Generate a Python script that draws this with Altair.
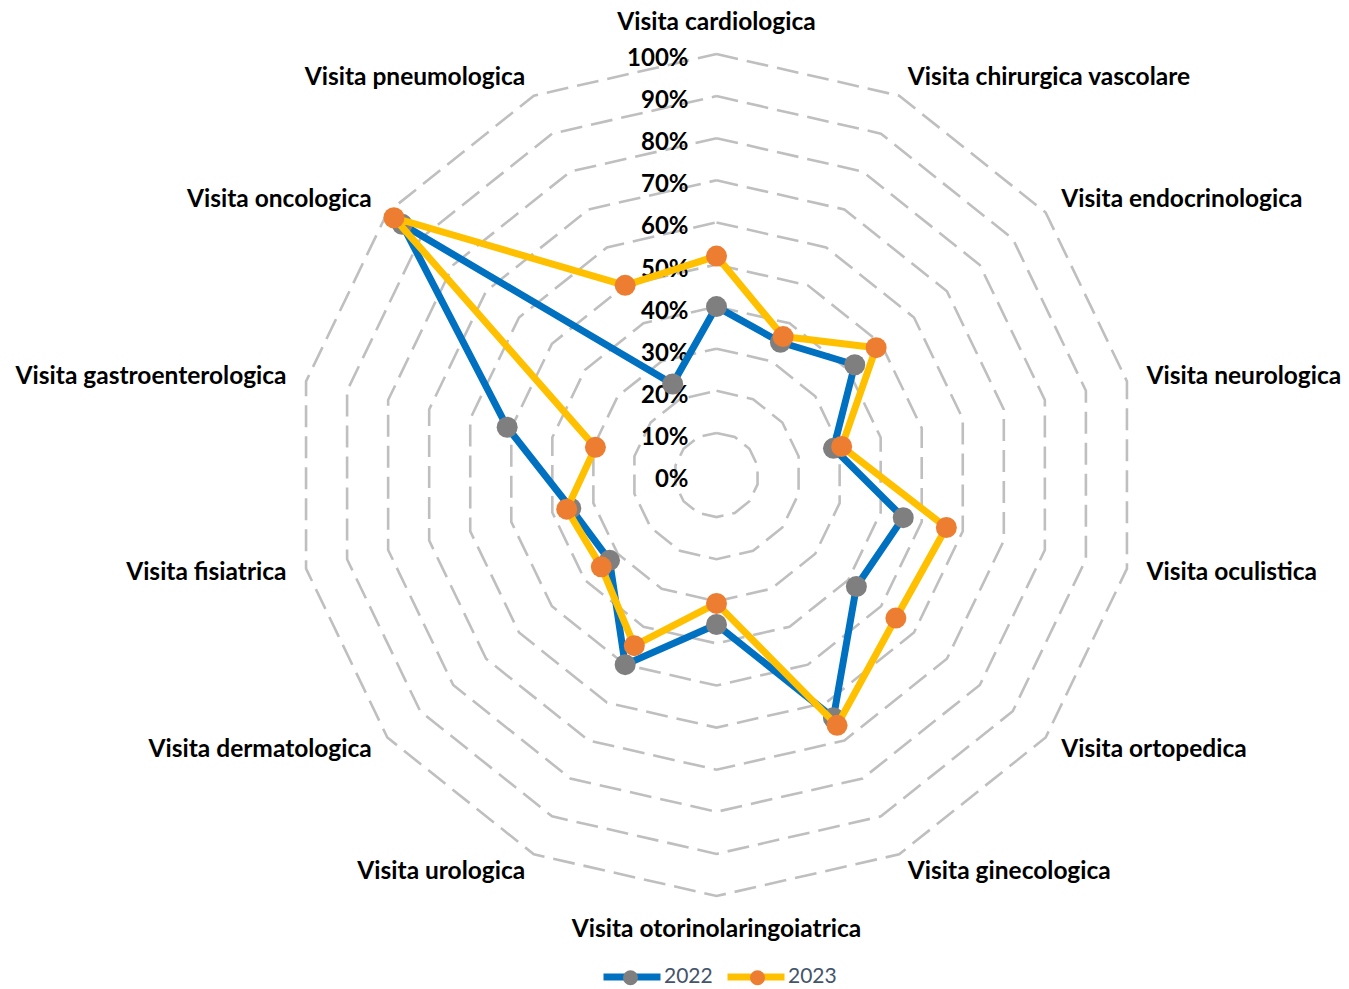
import altair as alt
import pandas as pd

# ---------------- data ----------------
categories = [
    "Visita cardiologica", "Visita chirurgica vascolare", "Visita endocrinologica",
    "Visita neurologica", "Visita oculistica", "Visita ortopedica", "Visita ginecologica",
    "Visita otorinolaringoiatrica", "Visita urologica", "Visita dermatologica",
    "Visita fisiatrica", "Visita gastroenterologica", "Visita oncologica", "Visita pneumologica",
]
values_2022 = [40, 35, 42, 28.5, 45.5, 42.5, 64, 35.5, 50, 32.5, 35.5, 51, 95.5, 24]
values_2023 = [52, 36.5, 48.5, 30.5, 56, 54.5, 66, 30.5, 45, 35, 36.5, 29.5, 98, 50]
series_names = ["2022", "2023"]
tick_values = [0, 10, 20, 30, 40, 50, 60, 70, 80, 90, 100]
tick_labels = ["0%", "10%", "20%", "30%", "40%", "50%", "60%", "70%", "80%", "90%", "100%"]

# ---------------- layout / style ----------------
N = len(categories)
W, H = 1333, 981
CX, CY, R = 708.5, 467.0, 421.0
LABEL_R = 441.0 / 421.0
x_dom = [-CX / R, (W - CX) / R]
y_dom = [-(H - CY) / R, CY / R]

LINE_COLORS = ["#0070C0", "#FFC000"]
POINT_COLORS = ["#7F7F7F", "#ED7D31"]
GRID_COLOR = "#BFBFBF"
FONT = "Lato"

# ---------------- tables ----------------
rows = []
for name, vals in zip(series_names, [values_2022, values_2023]):
    for i in range(N + 1):
        rows.append({"year": name, "year_pt": name, "i": i,
                     "cat": categories[i % N], "value": vals[i % N]})
series_df = pd.DataFrame(rows)

grid_rows = []
for lv in tick_values[1:]:
    for i in range(N + 1):
        grid_rows.append({"level": lv, "i": i})
grid_df = pd.DataFrame(grid_rows)

tick_df = pd.DataFrame({"level": tick_values, "label": tick_labels})
cat_df = pd.DataFrame({"i": list(range(N)), "cat": categories})

ANG = f"datum.i * 2 * PI / {N}"

xs = alt.Scale(domain=x_dom, nice=False, zero=False)
ys = alt.Scale(domain=y_dom, nice=False, zero=False)

# grid rings
grid = (
    alt.Chart(grid_df)
    .transform_calculate(a=ANG)
    .transform_calculate(gx="datum.level / 100 * sin(datum.a)", gy="datum.level / 100 * cos(datum.a)")
    .mark_line(stroke=GRID_COLOR, strokeWidth=2.6, strokeDash=[22, 9])
    .encode(
        x=alt.X("gx:Q", scale=xs, axis=None),
        y=alt.Y("gy:Q", scale=ys, axis=None),
        detail="level:N",
        order=alt.Order("i:Q"),
    )
)

# tick labels
ticks = (
    alt.Chart(tick_df)
    .transform_calculate(tx="0", ty="datum.level / 100")
    .mark_text(align="right", baseline="middle", dx=-28, dy=5, font=FONT,
               fontWeight="bold", fontSize=24, color="#000000")
    .encode(x=alt.X("tx:Q", scale=xs, axis=None), y=alt.Y("ty:Q", scale=ys, axis=None),
            text="label:N")
)

# category labels
def cat_layer(filt, align, baseline, dy):
    return (
        alt.Chart(cat_df)
        .transform_filter(filt)
        .transform_calculate(a=ANG)
        .transform_calculate(lx=f"{LABEL_R} * sin(datum.a)", ly=f"{LABEL_R} * cos(datum.a)")
        .mark_text(align=align, baseline=baseline, dy=dy, font=FONT, fontWeight="bold",
                   fontSize=24.5, color="#000000")
        .encode(x=alt.X("lx:Q", scale=xs, axis=None), y=alt.Y("ly:Q", scale=ys, axis=None),
                text="cat:N")
    )

labels_right = cat_layer(f"datum.i >= 1 && datum.i < {N // 2}", "left", "middle", 0)
labels_left = cat_layer(f"datum.i > {N // 2}", "right", "middle", 0)
labels_top = cat_layer("datum.i == 0", "center", "bottom", 1)
labels_bottom = cat_layer(f"datum.i == {N // 2}", "center", "top", 2)

line_color = alt.Color(
    "year:N",
    scale=alt.Scale(domain=series_names, range=LINE_COLORS),
    legend=alt.Legend(
        orient="none", legendX=592, legendY=937, direction="horizontal", title=None,
        symbolType="stroke", symbolStrokeWidth=7, symbolSize=3249,
        labelFont=FONT, labelFontSize=21, labelColor="#44546A", labelOffset=0,
        columnPadding=0, padding=0,
    ),
)
point_fill = alt.Fill(
    "year_pt:N",
    scale=alt.Scale(range=POINT_COLORS),
    legend=alt.Legend(
        orient="none", legendX=612, legendY=959, direction="horizontal", title=None,
        symbolType="circle", symbolSize=225, symbolStrokeWidth=0,
        labelExpr="''", labelFontSize=21, labelOffset=0,
        columnPadding=106, padding=0,
    ),
)

base = alt.Chart(series_df).transform_calculate(a=ANG).transform_calculate(
    px="datum.value / 100 * sin(datum.a)", py="datum.value / 100 * cos(datum.a)")

def series_layers(name):
    ln = (
        base.transform_filter(f"datum.year == '{name}'")
        .mark_line(strokeWidth=7, strokeJoin="round", strokeCap="round")
        .encode(x=alt.X("px:Q", scale=xs, axis=None), y=alt.Y("py:Q", scale=ys, axis=None),
                order=alt.Order("i:Q"), color=line_color)
    )
    pt = (
        base.transform_filter(f"datum.year == '{name}' && datum.i < {N}")
        .mark_point(filled=True, shape="circle", size=441, opacity=1, strokeWidth=0)
        .encode(x=alt.X("px:Q", scale=xs, axis=None), y=alt.Y("py:Q", scale=ys, axis=None),
                fill=point_fill)
    )
    return [ln, pt]

layers = [grid, ticks, labels_right, labels_left, labels_top, labels_bottom]
for nm in series_names:
    layers += series_layers(nm)

chart = (
    alt.layer(*layers)
    .properties(width=W, height=H, padding=0, autosize=alt.AutoSizeParams(type="none"),
                background="white")
    .configure_view(stroke=None)
)

chart.save("out.html", embed_options={"renderer": "svg", "actions": False})
